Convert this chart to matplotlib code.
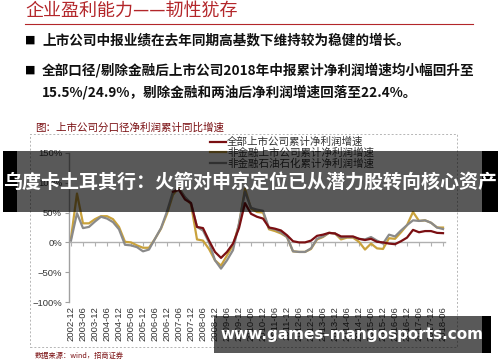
import matplotlib.pyplot as plt
import matplotlib.patches as mpatches
import numpy as np

plt.rcParams['font.family'] = ['Noto Sans CJK SC', 'DejaVu Sans']

# quarterly data, 2002-12 .. 2018-06
quarters = [f'{y}-{m}' for y in range(2002, 2019) for m in ('03', '06', '09', '12')]
quarters = quarters[quarters.index('2002-12'):quarters.index('2018-06') + 1]

nan = np.nan
all_listed = [nan, nan, nan, nan, nan, nan, nan, nan, nan, nan,
              nan, nan, nan, nan, nan, nan, nan, 85, 88, 72,
              66, 26, 24, 3, -16, -26, -16, -2, 24, 66,
              48, 43, 40, 25, 23, 20, 12, 2, 0, 0,
              3, 11, 13, 16, 15, 10, 10, 10, 6, 4,
              6, 1, 0, -2, -3, 2, 8, 21, 17, 19,
              19, 16, 15.5]
non_fin = [7, 82, 32, 32, 39, 44, 44, 39, 26, 1,
           0, -5, -9, -9, 6, 23, 48, 80, 92, 75,
           64, 5, 3, -11, -30, -39, -22, -5, 30, 90,
           57, 51, 50, 22, 19, 15, 9, -15, -16, -16,
           -11, 5, 9, 16, 15, 5, 8, 8, 1, -12,
           -2, -10, -11, 7, 6, 17, 29, 51, 36, 37,
           33, 25, 24.9]
non_fin_oil = [3, 49, 24, 26, 35, 43, 40, 34, 22, -4,
               -5, -8, -15, -12, 6, 24, 52, 85, 90, 76,
               66, 26, 20, 0, -30, -44, -30, -13, 32, 85,
               58, 55, 53, 24, 22, 17, 9, -15, -16, -16,
               -10, 6, 10, 16, 15, 8, 9, 9, 6, 5,
               9, 3, -2, 13, 10, 20, 29, 37, 36, 37,
               33, 25, 22.4]

series_labels = ['全部上市公司累计净利润增速', '非金融上市公司累计净利润增速', '非金融石油石化累计净利润增速']
y_ticks = [150, 100, 50, 0, -50, -100]

W, H = 500, 362
fig = plt.figure(figsize=(W / 100, H / 100), dpi=100)


def fx(x):
    return x / W


def fy(y):
    return 1 - y / H


red = '#b3262a'
maroon = '#7a0f12'

# slide header
fig.text(fx(25), fy(11), '企业盈利能力——韧性犹存', color=red, fontsize=13, va='center', ha='left')
fig.add_artist(plt.Line2D([fx(25), fx(473)], [fy(24), fy(24)], color=red, lw=0.8))
bullet_kw = dict(fontsize=9.8, va='center', ha='left', fontweight='bold', color='#111111')
fig.text(fx(25), fy(40), '■', fontsize=8, va='center', ha='left', family='DejaVu Sans')
fig.text(fx(42), fy(40), '上市公司中报业绩在去年同期高基数下维持较为稳健的增长。', **bullet_kw)
fig.text(fx(25), fy(70), '■', fontsize=8, va='center', ha='left', family='DejaVu Sans')
fig.text(fx(42), fy(70), '全部口径/剔除金融后上市公司2018年中报累计净利润增速均小幅回升至', **bullet_kw)
fig.text(fx(42), fy(92), '15.5%/24.9%，剔除金融和两油后净利润增速回落至22.4%。', **bullet_kw)

# chart frame
fig.add_artist(mpatches.Rectangle((fx(30), fy(347)), fx(457) - fx(30), fy(134) - fy(347),
                                  fill=False, ec='#b5b5b5', lw=0.7, ls=(0, (2, 2))))
fig.text(fx(35), fy(128), '图：上市公司分口径净利润累计同比增速', color=maroon, fontsize=7.6,
         va='center', ha='left')
fig.text(fx(35), fy(356), '数据来源：wind，招商证券', color=maroon, fontsize=5.2,
         va='center', ha='left')

ax = fig.add_axes([fx(69), fy(302), fx(445) - fx(69), fy(153) - fy(302)])
x = np.arange(len(quarters))
ax.plot(x, non_fin, color='#c9a23c', lw=1.6, label=series_labels[1], zorder=2)
ax.plot(x, non_fin_oil, color='#8a8a8a', lw=1.6, label=series_labels[2], zorder=3)
ax.plot(x, all_listed, color=maroon, lw=1.6, label=series_labels[0], zorder=4)

ax.set_xlim(-0.33, len(quarters) - 0.67)
ax.set_ylim(-100, 150)
ax.set_yticks(y_ticks)
ax.set_yticklabels([f'{v}%'.replace('-', '\u2212') for v in y_ticks], fontsize=6.8,
                   family='Liberation Sans', color='#333333')
ax.tick_params(axis='y', length=3, color='#a0a0a0', width=0.8, pad=2)
for s in ('top', 'right', 'bottom'):
    ax.spines[s].set_visible(False)
ax.spines['left'].set_color('#a0a0a0')
ax.spines['left'].set_linewidth(1.0)

ax.set_xticks(x[::2])
ax.set_xticklabels(quarters[::2], rotation=90, fontsize=6.8, family='Liberation Sans', color='#333333')
ax.tick_params(axis='x', length=0, pad=3)
sec = ax.secondary_xaxis(0.4)
sec.set_xticks(x[::2])
sec.set_xticklabels([])
sec.tick_params(length=3, color='#b0b0b0', width=0.8)
sec.spines['bottom'].set_color('#b0b0b0')
sec.spines['bottom'].set_linewidth(1.0)
ax.patch.set_alpha(0)

h, l = ax.get_legend_handles_labels()
order = [2, 0, 1]
fig.legend([h[i] for i in order], [l[i] for i in order], loc='upper left',
           bbox_to_anchor=(fx(210), fy(137)), frameon=False, fontsize=7.6,
           handlelength=1.5, handletextpad=0.1, labelspacing=0.05, borderpad=0,
           borderaxespad=0, labelcolor='#333333')

# overlay banners
fig.add_artist(mpatches.Rectangle((fx(17), fy(212)), fx(482) - fx(17), fy(151) - fy(212),
                                  fc='black', alpha=0.65, lw=0, zorder=10))
for x0, x1 in ((3, 17), (482, 498)):
    fig.add_artist(mpatches.Rectangle((fx(x0), fy(212)), fx(x1) - fx(x0), fy(151) - fy(212),
                                      fc='black', lw=0, zorder=10))
fig.text(fx(250), fy(182), '乌度卡土耳其行：火箭对申京定位已从潜力股转向核心资产', color='white',
         fontsize=13.7, fontweight='bold', ha='center', va='center', zorder=11)

fig.add_artist(mpatches.Rectangle((fx(214), fy(353)), fx(482) - fx(214), fy(316) - fy(353),
                                  fc='black', alpha=0.65, lw=0, zorder=10))
fig.add_artist(mpatches.Rectangle((fx(482), fy(353)), fx(491) - fx(482), fy(316) - fy(353),
                                  fc='black', lw=0, zorder=10))
fig.text(fx(352), fy(334), 'www.games-mangosports.com', color='white', family='DejaVu Sans',
         fontsize=11, fontweight='bold', ha='center', va='center', zorder=11)

fig.savefig('out.png', dpi=100)
